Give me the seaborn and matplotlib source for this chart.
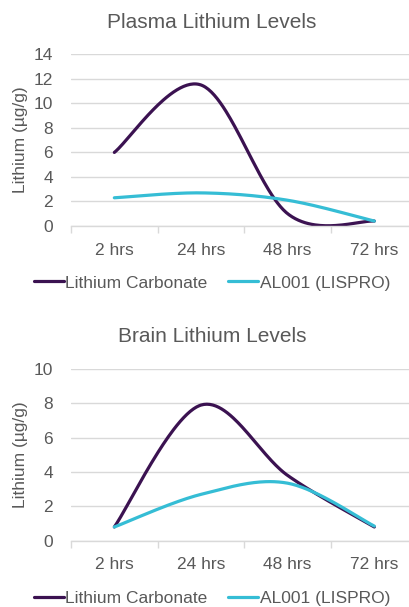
import numpy as np
import pandas as pd
import matplotlib
matplotlib.use("Agg")
from matplotlib import pyplot as plt
import seaborn as sns

times = ["2 hrs", "24 hrs", "48 hrs", "72 hrs"]
series_names = ["Lithium Carbonate", "AL001 (LISPRO)"]

plasma_carbonate = [6.0, 11.5, 1.0, 0.4]
plasma_lispro = [2.3, 2.7, 2.1, 0.4]

brain_carbonate = [0.8, 7.9, 3.8, 0.8]
brain_lispro = [0.8, 2.7, 3.35, 0.85]

purple = "#3b1251"
cyan = "#35bdd5"
grey_text = "#595959"
grid_col = "#d9d9d9"


def smooth(y, n=60):
    # excel style smoothed line (catmull-rom through the points)
    x = np.arange(len(y), dtype=float)
    y = np.asarray(y, dtype=float)
    px = np.concatenate([[x[0]], x, [x[-1]]])
    py = np.concatenate([[y[0]], y, [y[-1]]])
    xs, ys = [], []
    t = np.linspace(0, 1, n)
    h00 = 2 * t**3 - 3 * t**2 + 1
    h10 = t**3 - 2 * t**2 + t
    h01 = -2 * t**3 + 3 * t**2
    h11 = t**3 - t**2
    for i in range(1, len(px) - 2):
        mx0 = (px[i + 1] - px[i - 1]) / 2
        mx1 = (px[i + 2] - px[i]) / 2
        my0 = (py[i + 1] - py[i - 1]) / 2
        my1 = (py[i + 2] - py[i]) / 2
        xs.append(h00 * px[i] + h10 * mx0 + h01 * px[i + 1] + h11 * mx1)
        ys.append(h00 * py[i] + h10 * my0 + h01 * py[i + 1] + h11 * my1)
    return np.concatenate(xs), np.concatenate(ys)


sns.set_theme(style="white")
plt.rcParams["font.family"] = ["Liberation Sans", "DejaVu Sans"]

fig = plt.figure(figsize=(4.09, 6.07), dpi=100)
ax1 = fig.add_axes([0.1736, 0.6277, 0.8264, 0.2828])
ax2 = fig.add_axes([0.1736, 0.1092, 0.8264, 0.2829])

panels = [
    (ax1, plasma_carbonate, plasma_lispro, 14, 2, "Plasma Lithium Levels", 1 - 22 / 607, 1 - 283 / 607),
    (ax2, brain_carbonate, brain_lispro, 10, 2, "Brain Lithium Levels", 1 - 337 / 607, 1 - 598 / 607),
]

for ax, carb, lis, ymax, step, title, ty, ly in panels:
    for vals, name, col in [(carb, series_names[0], purple), (lis, series_names[1], cyan)]:
        sx, sy = smooth(vals)
        df = pd.DataFrame({"x": sx, "y": sy})
        sns.lineplot(data=df, x="x", y="y", ax=ax, color=col, linewidth=2.3,
                     sort=False, estimator=None, label=name)

    ax.set_xlim(-0.5, 3.4)
    ax.set_ylim(0, ymax)
    ax.set_yticks(np.arange(0, ymax + 1, step))
    ax.set_xticks(range(len(times)), times)
    ax.set_xticks(np.arange(-0.5, 3.0, 1.0), minor=True)
    ax.tick_params(axis="x", which="major", length=0, pad=12, labelsize=12.5, labelcolor=grey_text)
    ax.tick_params(axis="x", which="minor", length=5, width=1, color=grid_col, direction="out", bottom=True)
    ax.tick_params(axis="y", length=0, pad=13, labelsize=12.5, labelcolor=grey_text)
    ax.grid(axis="y", color=grid_col, linewidth=1)
    ax.set_axisbelow(True)
    for s in ["top", "right", "left"]:
        ax.spines[s].set_visible(False)
    ax.spines["bottom"].set_color(grid_col)
    ax.spines["bottom"].set_linewidth(1)
    ax.set_xlabel("")
    ax.set_ylabel("Lithium (µg/g)", fontsize=12.5, color=grey_text, labelpad=4)

    fig.text(212 / 409, ty, title, ha="center", va="center", fontsize=15, color=grey_text)
    ax.get_legend().remove()
    handles, labels = ax.get_legend_handles_labels()
    fig.legend(handles, labels, loc="center", bbox_to_anchor=(212 / 409, ly), ncol=2,
               frameon=False, fontsize=12.5, labelcolor=grey_text, handlelength=1.7,
               handletextpad=0.1, columnspacing=1.2, borderaxespad=0)

fig.savefig("out.png", dpi=100)
